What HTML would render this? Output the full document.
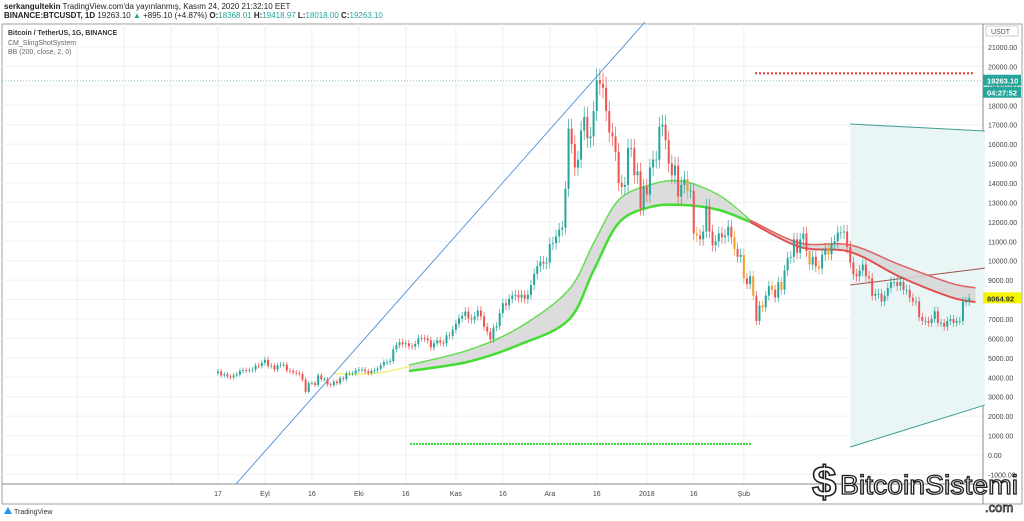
<!DOCTYPE html>
<html><head><meta charset="utf-8"><style>
body{margin:0;width:1024px;height:521px;background:#fff;overflow:hidden;font-family:"Liberation Sans",sans-serif;}
#hdr1{position:absolute;left:4px;top:2px;font-size:8px;color:#222;white-space:nowrap}
#hdr2{position:absolute;left:4px;top:11px;font-size:8px;color:#222;font-weight:bold;white-space:nowrap}
.g{color:#26a69a;font-weight:normal}
</style></head><body>
<div id="hdr1"><b>serkangultekin</b> TradingView.com'da yayınlanmış, Kasım 24, 2020 21:32:10 EET</div>
<div id="hdr2">BINANCE:BTCUSDT, 1D <span style="font-weight:normal">19263.10 <span style="color:#26a69a">▲</span> +895.10 (+4.87%)</span> O:<span class="g">18368.01</span> H:<span class="g">19418.97</span> L:<span class="g">18018.00</span> C:<span class="g">19263.10</span></div>
<svg id="chart" width="1024" height="521" style="position:absolute;left:0;top:0" xmlns="http://www.w3.org/2000/svg"></svg>
<script>
const closes=[4300,4100,4150,4050,4000,4100,4150,4330,4370,4350,4370,4390,4600,4590,4740,
4900,4580,4600,4400,4620,4650,4650,4350,4330,4250,4220,4170,3880,3250,3700,3700,3600,4100,3900,3900,3630,3600,3780,3700,3950,3900,4200,4200,4200,4350,
4400,4400,4310,4220,4330,4370,4440,4620,4780,4780,4830,5440,5650,5800,5700,5750,5600,5580,5710,6000,6010,5990,5900,5530,5750,5900,5780,5750,6150,6130,6450,
6750,7030,7160,7380,7020,6970,7140,7440,7140,6600,6350,5950,6560,6630,7300,7810,7700,8040,8200,8250,8100,8250,8040,8250,8750,9320,9720,9950,9850,9900,
10860,10900,11250,11600,11700,13700,16800,16000,14800,15200,16700,17400,16300,16400,17700,19300,19100,18900,17700,16600,16400,15600,14000,13800,13900,15800,15800,14400,14600,12700,13800,
13400,14800,15200,15200,16900,17000,16200,15000,14400,14900,13300,13900,14200,13600,13600,11400,11300,11100,11500,12800,11500,10800,11000,11400,11200,11300,11750,11200,10600,10200,10300,
9100,8800,9200,8200,6900,7700,7600,8200,8700,8500,8100,8900,8500,9500,10150,10200,11100,10400,11100,11400,10500,9800,10200,9700,9600,10300,10600,10330,
10900,11000,11450,11450,11500,10700,9900,9300,9200,9500,9800,9200,9100,8200,8300,8300,7900,8200,8600,8900,8900,8700,8900,8500,8500,8100,7900,7900,7100,6900,6900,
6800,7000,7400,6800,6800,6600,6900,7000,6800,6900,6900,7900,7900,8064];
const bandDays=[61,80,96,112,120,128,138,148,160,170,186,202,218,234,242];
const bandUpper=[4630,5400,6540,8490,10900,13120,13900,14100,13380,12090,10910,10810,9780,8850,8600];
const bandLower=[4320,4800,5660,6950,9500,11940,12760,12870,12610,11990,10700,10450,9160,8130,7870];
const yTicks=[-1000,0,1000,2000,3000,4000,5000,6000,7000,8000,9000,10000,11000,12000,13000,14000,15000,16000,17000,18000,19000,20000,21000];
const xLabels=["17","Eyl","16","Eki","16","Kas","16","Ara","16","2018","16","Şub"];
const xLabelDays=[0,15,30,45,60,76,91,106,121,137,152,168];
const fanDays=[202,245],fanUpper=[17035,16675],fanLower=[410,2570],fanMid=[8750,9620];
const lastPrice=19263.10,curPrice=8064.92,redLevel=19650,greenLevel=570;

const svg=document.getElementById('chart');const NS='http://www.w3.org/2000/svg';
const X=d=>218+d*3.13, Y=v=>455-v*0.01943;
function mk(t,a,p){const e=document.createElementNS(NS,t);for(const k in a)e.setAttribute(k,a[k]);(p||svg).appendChild(e);return e;}
function smooth(pts){let d=`M${pts[0][0]},${pts[0][1]}`;for(let i=0;i<pts.length-1;i++){const p0=pts[i-1]||pts[i],p1=pts[i],p2=pts[i+1],p3=pts[i+2]||p2;
d+=` C${p1[0]+(p2[0]-p0[0])/6},${p1[1]+(p2[1]-p0[1])/6} ${p2[0]-(p3[0]-p1[0])/6},${p2[1]-(p3[1]-p1[1])/6} ${p2[0]},${p2[1]}`;}return d;}
const PR=983,BOT=484;
let fr=mk('rect',{x:2,y:24,width:1020,height:480,fill:'none',stroke:'#888','stroke-width':0.8});

yTicks.forEach(v=>{let l=mk('line',{x1:2,x2:PR,y1:Y(v),y2:Y(v),stroke:'#eef0f3'});

let t=mk('text',{x:988,y:Y(v)+3,'font-size':7,fill:'#444'});t.textContent=v.toFixed(2);
});
[-15,-30,-45].forEach(d=>{mk('line',{x1:X(d),x2:X(d),y1:24,y2:BOT,stroke:'#eef0f3'});});
xLabels.forEach((s,i)=>{const d=xLabelDays[i];let l=mk('line',{x1:X(d),x2:X(d),y1:24,y2:BOT,stroke:'#eef0f3'});

let t=mk('text',{x:X(d),y:496,'font-size':7,fill:'#444','text-anchor':'middle'});t.textContent=s;
});
let ax=mk('line',{x1:PR,x2:PR,y1:24,y2:504,stroke:'#888'});
let bx=mk('line',{x1:2,x2:PR,y1:BOT,y2:BOT,stroke:'#888'});
let fanPts=`${X(fanDays[0])},${Y(fanUpper[0])} ${X(fanDays[1])},${Y(fanUpper[1])} ${X(fanDays[1])},${Y(fanLower[1])} ${X(fanDays[0])},${Y(fanLower[0])}`;
let fp=mk('polygon',{points:fanPts,fill:'#eaf6f6'});
[[fanUpper,'#3a9e8e','fan-upper'],[fanLower,'#3a9e8e','fan-lower'],[fanMid,'#a0524a','fan-mid']].forEach(([a,c,n])=>{
let l=mk('line',{x1:X(fanDays[0]),y1:Y(a[0]),x2:X(fanDays[1]),y2:Y(a[1]),stroke:c,'stroke-width':1});
});
let lp=mk('line',{x1:2,x2:PR,y1:Y(lastPrice),y2:Y(lastPrice),stroke:'#8fc7c0','stroke-dasharray':'1,2'});

let rl=mk('line',{x1:755,x2:975,y1:Y(redLevel),y2:Y(redLevel),stroke:'#e53935','stroke-width':2,'stroke-dasharray':'2,2'});

let gl=mk('line',{x1:410,x2:752,y1:Y(greenLevel),y2:Y(greenLevel),stroke:'#33dd33','stroke-width':2,'stroke-dasharray':'2,1'});

const up=bandUpper.map((v,i)=>[X(bandDays[i]),Y(v)]), lo=bandLower.map((v,i)=>[X(bandDays[i]),Y(v)]);
let bp=mk('path',{d:smooth(up)+' L'+smooth(lo.slice().reverse()).slice(1)+' Z',fill:'#d6d6d6',opacity:0.85});

function seg(arr,from,to,col,w,name){const pts=[];bandDays.forEach((d,i)=>{if(d>=from&&d<=to)pts.push([X(d),Y(arr[i])]);});
let p=mk('path',{d:smooth(pts),fill:'none',stroke:col,'stroke-width':w,'stroke-linejoin':'round'});
}
seg(bandUpper,0,170,'#66dd55',1.5,'fast-ema-green');seg(bandLower,0,170,'#44dd33',2.5,'slow-ema-green');
seg(bandUpper,170,250,'#e06060',1.5,'fast-ema-red');seg(bandLower,170,250,'#e05050',2,'slow-ema-red');
let yl=mk('polyline',{points:`${X(37)},${Y(4200)} ${X(45)},${Y(4150)} ${X(53)},${Y(4250)} ${X(61)},${Y(4550)}`,fill:'none',stroke:'#f5f07a','stroke-width':1.5});

let tl=mk('line',{x1:236,y1:484,x2:645,y2:22,stroke:'#4a90d9','stroke-width':0.9});

const cg=mk('g',{});
closes.forEach((c,i)=>{const o=i?closes[i-1]:c*0.98;const upc=c>=o;let col=upc?'#26a69a':'#ef5350';
if(i>=150&&i<=200&&!upc&&i%3==0)col='#f59a23';
const hi=Math.max(o,c)*1.03,low=Math.min(o,c)*0.97;
mk('line',{x1:X(i),x2:X(i),y1:Y(hi),y2:Y(low),stroke:col,'stroke-width':0.7},cg);
let b=mk('rect',{x:X(i)-1,y:Y(Math.max(o,c)),width:2,height:Math.max(0.8,Math.abs(Y(o)-Y(c))),fill:col},cg);
});
function tag(v,txt,bg,fg,name,dy){let r=mk('rect',{x:PR,y:Y(v)-6+(dy||0),width:38,height:11,fill:bg});

let t=mk('text',{x:PR+4,y:Y(v)+3+(dy||0),'font-size':7.5,fill:fg,'font-weight':'bold'});t.textContent=txt;}
tag(lastPrice,'19263.10','#26a69a','#fff','last-price-tag');tag(lastPrice,'04:27:52','#26a69a','#fff','countdown-tag',12);
tag(curPrice,'8064.92','#f5f500','#333','current-price-tag');
let ub=mk('rect',{x:986,y:26,width:32,height:10,fill:'#fff',stroke:'#ccc'});
let ut=mk('text',{x:991,y:34,'font-size':7,fill:'#555'});ut.textContent='USDT';
[['Bitcoin / TetherUS, 1G, BINANCE','#333',35,'legend-symbol'],['CM_SlingShotSystem','#666',45,'legend-indicator-1'],['BB (200, close, 2, 0)','#666',54,'legend-indicator-2']].forEach(([s,c,y,n])=>{
let t=mk('text',{x:8,y:y,'font-size':7,fill:c,'font-weight':n=='legend-symbol'?'bold':'normal'});t.textContent=s;
});
let tvi=mk('path',{d:'M4,514 L8,507 L12,514 Z',fill:'#2196f3'});
let tvt=mk('text',{x:14,y:514,'font-size':7,fill:'#333'});tvt.textContent='TradingView';
let wm=mk('text',{x:812,y:497,'font-size':44,'font-weight':'bold',fill:'#fff',stroke:'#222','stroke-width':1.6});wm.textContent='$';

let wt=mk('text',{x:840,y:494,'font-size':27,fill:'#fff',stroke:'#222','stroke-width':1.3,textLength:178,lengthAdjust:'spacingAndGlyphs'});wt.textContent='BitcoinSistemi';

let wc=mk('text',{x:985,y:512,'font-size':13,fill:'#fff',stroke:'#222','stroke-width':0.8});wc.textContent='.com';
</script>
</body></html>
